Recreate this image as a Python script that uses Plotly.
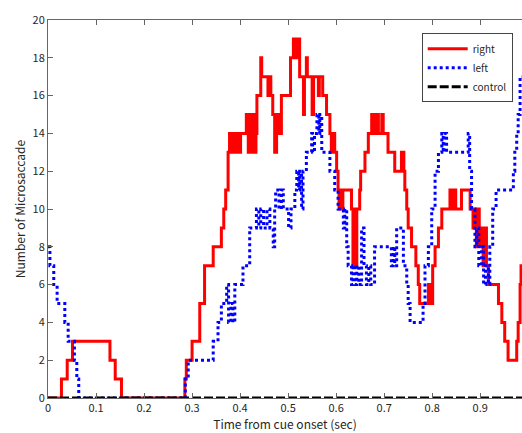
import plotly.graph_objects as go

# Time (sec) and counts (step series)
right_t = [0.000, 0.028, 0.040, 0.051, 0.129, 0.140, 0.153, 0.285, 0.288, 0.300,
           0.316, 0.326, 0.344, 0.361, 0.366, 0.370, 0.375, 0.378, 0.381, 0.383,
           0.387, 0.389, 0.393, 0.395, 0.399, 0.401, 0.413, 0.417, 0.422, 0.425,
           0.427, 0.431, 0.433, 0.435, 0.443, 0.445, 0.458, 0.462, 0.464, 0.468,
           0.472, 0.476, 0.480, 0.486, 0.505, 0.511, 0.517, 0.519, 0.524, 0.532,
           0.534, 0.538, 0.540, 0.550, 0.553, 0.563, 0.565, 0.572, 0.580, 0.587,
           0.590, 0.594, 0.597, 0.601, 0.604, 0.606, 0.608, 0.610, 0.614, 0.632,
           0.635, 0.638, 0.640, 0.643, 0.649, 0.651, 0.660, 0.667, 0.674, 0.676,
           0.679, 0.683, 0.685, 0.688, 0.695, 0.698, 0.708, 0.722, 0.736, 0.741,
           0.743, 0.747, 0.750, 0.757, 0.766, 0.771, 0.774, 0.792, 0.794, 0.796,
           0.798, 0.801, 0.806, 0.813, 0.820, 0.837, 0.839, 0.843, 0.845, 0.847,
           0.849, 0.861, 0.879, 0.885, 0.889, 0.892, 0.895, 0.898, 0.903, 0.906,
           0.910, 0.913, 0.917, 0.938, 0.945, 0.951, 0.958, 0.976, 0.979, 0.983,
           0.985, 0.990]
right_v = [0, 1, 2, 3, 2, 1, 0, 1, 2, 3,
           5, 7, 8, 9, 10, 11, 13, 14, 13, 14,
           13, 14, 13, 14, 13, 14, 15, 13, 15, 13,
           15, 13, 14, 16, 18, 17, 16, 17, 16, 15,
           13, 15, 14, 16, 18, 19, 18, 19, 17, 15,
           17, 18, 17, 15, 17, 16, 17, 16, 15, 14,
           13, 14, 13, 12, 11, 10, 11, 10, 11, 10,
           7, 10, 7, 10, 11, 12, 13, 14, 15, 14,
           15, 14, 15, 14, 15, 14, 13, 12, 13, 12,
           11, 10, 9, 8, 7, 6, 5, 6, 5, 6,
           5, 7, 8, 9, 10, 11, 10, 11, 10, 11,
           10, 11, 10, 9, 10, 8, 10, 8, 9, 7,
           9, 7, 6, 5, 4, 3, 2, 3, 4, 6,
           7, 7]

left_t = [0.000, 0.004, 0.012, 0.019, 0.035, 0.042, 0.055, 0.060, 0.064, 0.286,
          0.292, 0.344, 0.354, 0.361, 0.372, 0.376, 0.381, 0.385, 0.389, 0.406,
          0.420, 0.434, 0.439, 0.443, 0.449, 0.456, 0.462, 0.469, 0.472, 0.474,
          0.481, 0.486, 0.490, 0.501, 0.506, 0.514, 0.518, 0.522, 0.524, 0.528,
          0.531, 0.538, 0.549, 0.551, 0.555, 0.560, 0.564, 0.566, 0.570, 0.587,
          0.597, 0.604, 0.615, 0.618, 0.622, 0.625, 0.632, 0.635, 0.639, 0.643,
          0.647, 0.653, 0.658, 0.663, 0.668, 0.672, 0.680, 0.715, 0.719, 0.722,
          0.726, 0.740, 0.747, 0.750, 0.754, 0.781, 0.785, 0.792, 0.799, 0.806,
          0.813, 0.820, 0.823, 0.825, 0.830, 0.875, 0.878, 0.882, 0.889, 0.893,
          0.897, 0.903, 0.907, 0.911, 0.917, 0.920, 0.926, 0.933, 0.969, 0.972,
          0.976, 0.979, 0.983, 0.990]
left_v = [8, 7, 6, 5, 4, 3, 2, 1, 0, 1,
          2, 3, 4, 5, 6, 4, 5, 4, 6, 7,
          9, 10, 9, 10, 9, 10, 9, 8, 10, 11,
          10, 11, 10, 9, 10, 11, 12, 11, 12, 10,
          12, 13, 14, 13, 14, 15, 14, 15, 13, 12,
          11, 10, 9, 10, 8, 7, 6, 7, 6, 7,
          6, 9, 7, 6, 7, 6, 8, 7, 8, 7,
          9, 7, 6, 5, 4, 5, 7, 8, 10, 12,
          13, 14, 13, 14, 13, 14, 12, 10, 8, 9,
          7, 8, 6, 7, 6, 8, 10, 11, 12, 13,
          14, 15, 17, 17]

control_t = [0.000, 0.990]
control_v = [0, 0]

x_ticks = [0, 0.1, 0.2, 0.3, 0.4, 0.5, 0.6, 0.7, 0.8, 0.9]
x_tick_labels = ["0", "0.1", "0.2", "0.3", "0.4", "0.5", "0.6", "0.7", "0.8", "0.9"]
y_ticks = [0, 2, 4, 6, 8, 10, 12, 14, 16, 18, 20]

FONT = "Noto Sans CJK JP"

fig = go.Figure()
fig.add_trace(go.Scatter(x=right_t, y=right_v, name="right", mode="lines",
                         line=dict(color="#ff0000", width=3, shape="hv")))
fig.add_trace(go.Scatter(x=left_t, y=left_v, name="left", mode="lines",
                         line=dict(color="#0000ff", width=3, shape="hv", dash="3px,3px")))
fig.add_trace(go.Scatter(x=control_t, y=control_v, name="control", mode="lines",
                         line=dict(color="#000000", width=3, dash="9px,3px")))

axis_common = dict(showline=True, linecolor="#666666", linewidth=1,
                   ticks="inside", ticklen=5, tickcolor="#666666",
                   showgrid=False, zeroline=False, automargin=False,
                   tickfont=dict(family=FONT, size=11, color="#262626"))

fig.update_layout(
    width=522, height=433,
    margin=dict(l=48, r=0, t=20, b=35, autoexpand=False),
    paper_bgcolor="white", plot_bgcolor="white",
    font=dict(family=FONT, size=11, color="#262626"),
    xaxis=dict(range=[0, 0.987], tickvals=x_ticks, ticktext=x_tick_labels,
               mirror="ticks",
               title=dict(text="Time from cue onset (sec)", standoff=0,
                          font=dict(family=FONT, size=12, color="#262626")),
               **axis_common),
    yaxis=dict(range=[0, 20], tickvals=y_ticks,
               title=dict(text="Number of Microsaccade", standoff=4,
                          font=dict(family=FONT, size=12, color="#262626")),
               **axis_common),
    legend=dict(x=1.0 - (522 - 512.7) / 474, xref="paper", xanchor="right",
                y=1.0 - (33.3 - 20) / 378, yanchor="top",
                bordercolor="#444444", borderwidth=1, bgcolor="white",
                font=dict(family=FONT, size=10, color="#262626"),
                itemwidth=40, tracegroupgap=0),
    showlegend=True,
)

fig.write_html("out.html", config={"displayModeBar": False},
               post_script="document.body.style.margin='0';document.body.style.overflow='hidden';")
